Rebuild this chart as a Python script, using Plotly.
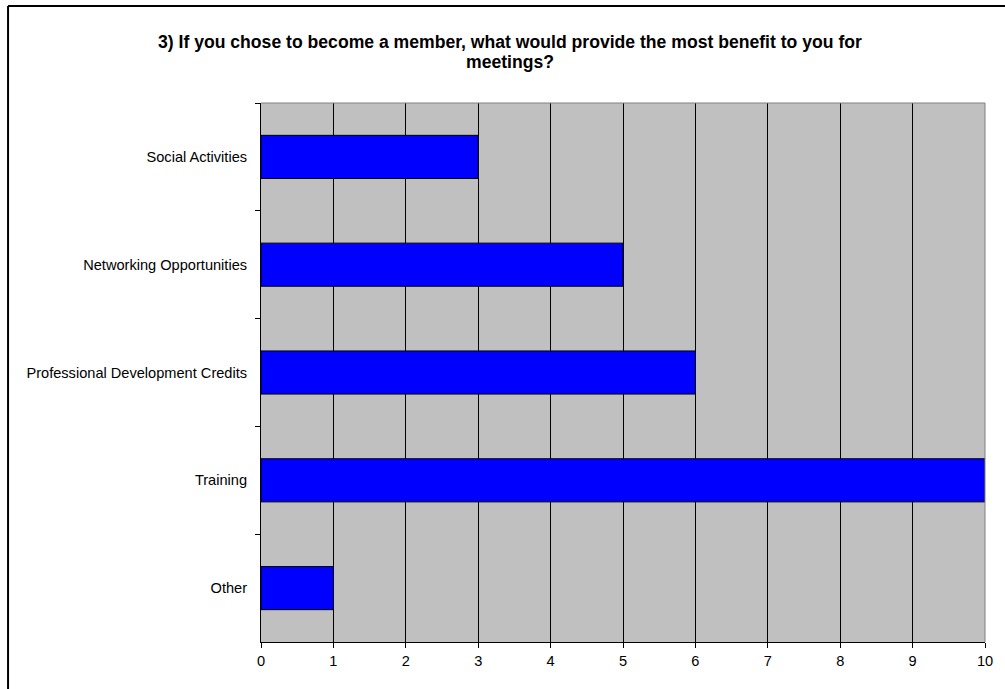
import plotly.graph_objects as go

categories = ["Social Activities", "Networking Opportunities", "Professional Development Credits", "Training", "Other"]
values = [3, 5, 6, 10, 1]
x_ticks = list(range(0, 11))

title_line1 = "3) If you chose to become a member, what would provide the most benefit to you for"
title_line2 = "meetings?"

# plot area in pixels
L, R, T, B = 261, 988, 103, 642
W, H = 1005, 689
pw, ph = R - L, B - T

def px_x(p):
    return (p - L) / pw

def px_y(p):
    return (B - p) / ph

font_fam = "Liberation Sans, Arial, sans-serif"
tick_fs = 14.6
title_fs = 17.6

fig = go.Figure(go.Bar(
    x=values, y=categories, orientation="h",
    marker=dict(color="#0000FF", line=dict(color="black", width=1)),
    hoverinfo="x+y",
))

fig.update_layout(
    width=W, height=H,
    margin=dict(l=L, r=W - R, t=T, b=H - B, pad=0),
    paper_bgcolor="white", plot_bgcolor="#C0C0C0",
    bargap=0.6, showlegend=False,
    font=dict(family=font_fam, size=tick_fs, color="black"),
    xaxis=dict(range=[0, 10], tickvals=x_ticks, ticks="outside", ticklen=5, tickcolor="black",
               showgrid=True, gridcolor="black", gridwidth=1, showline=True, linecolor="black",
               linewidth=1, zeroline=False, tickfont=dict(size=tick_fs, family=font_fam)),
    yaxis=dict(type="category", autorange="reversed", tickson="boundaries", ticks="outside",
               ticklen=5, tickcolor="black", showgrid=False, showline=True, linecolor="black",
               linewidth=1, zeroline=False, ticklabelstandoff=10,
               tickfont=dict(size=tick_fs, family=font_fam)),
    shapes=[
        dict(type="line", xref="paper", yref="paper", x0=0, x1=1, y0=1, y1=1,
             line=dict(color="#808080", width=1), layer="above"),
        dict(type="line", xref="paper", yref="paper", x0=1, x1=1, y0=0, y1=1,
             line=dict(color="#808080", width=1), layer="above"),
        dict(type="line", xref="paper", yref="paper", x0=px_x(7), x1=px_x(1010),
             y0=px_y(6), y1=px_y(6), line=dict(color="black", width=2)),
        dict(type="line", xref="paper", yref="paper", x0=px_x(7), x1=px_x(7),
             y0=px_y(6), y1=px_y(700), line=dict(color="black", width=2)),
    ],
    annotations=[
        dict(text="<b>" + title_line1 + "</b>", xref="paper", yref="paper",
             x=px_x(511), y=px_y(42), xanchor="center", yanchor="middle", showarrow=False,
             font=dict(family=font_fam, size=title_fs, color="black")),
        dict(text="<b>" + title_line2 + "</b>", xref="paper", yref="paper",
             x=px_x(511), y=px_y(62), xanchor="center", yanchor="middle", showarrow=False,
             font=dict(family=font_fam, size=title_fs, color="black")),
    ],
)

fig.write_html("out.html", config={"displayModeBar": False},
               post_script="document.body.style.margin='0';")
